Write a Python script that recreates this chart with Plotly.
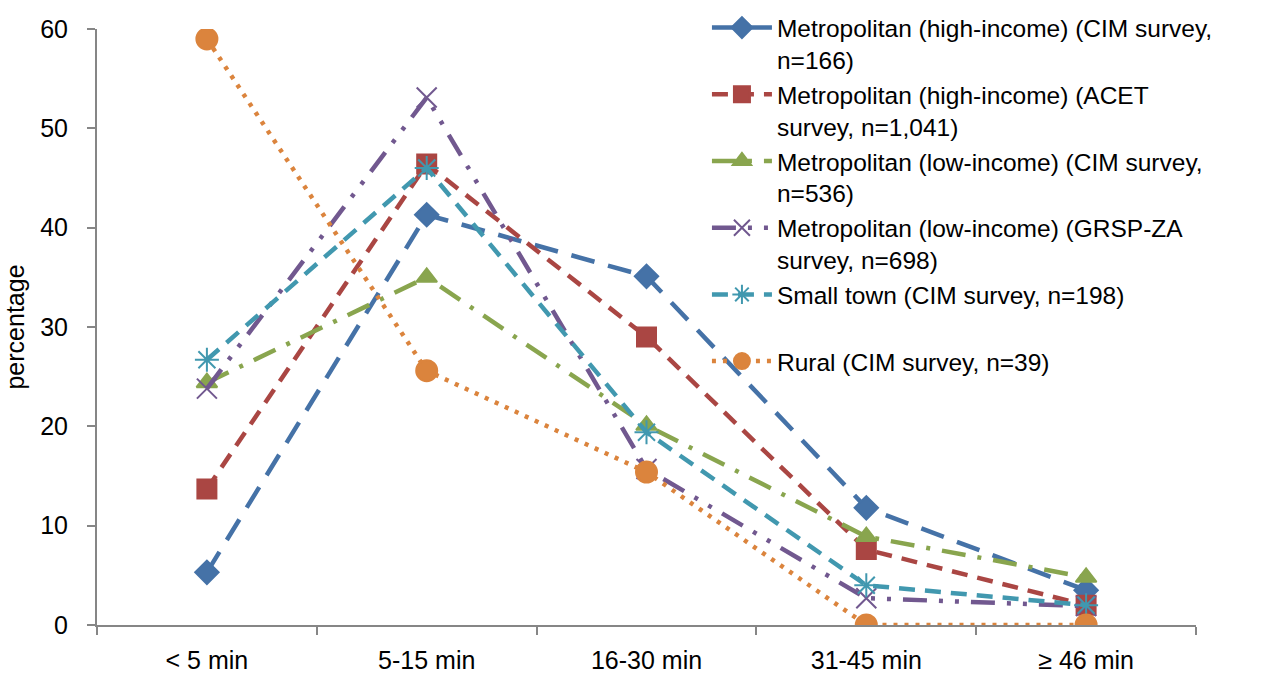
import plotly.graph_objects as go

categories = ["< 5 min", "5-15 min", "16-30 min", "31-45 min", "≥ 46 min"]

metro_high_cim = [5.3, 41.3, 35.1, 11.8, 3.5]
metro_high_acet = [13.7, 46.4, 29.0, 7.6, 2.0]
metro_low_cim = [24.4, 35.0, 20.1, 8.9, 4.8]
metro_low_grsp = [23.8, 53.1, 15.7, 2.7, 1.9]
small_town_cim = [26.7, 46.0, 19.4, 4.0, 2.0]
rural_cim = [59.0, 25.6, 15.4, 0.0, 0.0]

series_names = [
    "Metropolitan (high-income) (CIM survey,<br>n=166)",
    "Metropolitan (high-income) (ACET<br>survey, n=1,041)",
    "Metropolitan (low-income) (CIM survey,<br>n=536)",
    "Metropolitan (low-income) (GRSP-ZA<br>survey, n=698)",
    "Small town (CIM survey, n=198)<br>\u00a0",
    "Rural (CIM survey, n=39)",
]
series_values = [metro_high_cim, metro_high_acet, metro_low_cim,
                 metro_low_grsp, small_town_cim, rural_cim]
colors = ["#4572A7", "#AA4643", "#89A54E", "#71588F", "#4198AF", "#DB843D"]
dashes = ["24px,14px", "16px,10px", "24px,12px,4px,12px",
          "24px,12px,4px,12px,4px,12px", "16px,10px", "4px,7px"]
symbols = ["diamond", "square", "triangle-up", "x-thin-open", "asterisk-open", "circle"]
sizes = [18, 19, 18, 20, 20, 21]

fig = go.Figure()
for name, vals, c, d, s, sz in zip(series_names, series_values, colors, dashes, symbols, sizes):
    fig.add_trace(go.Scatter(
        x=categories, y=vals, name=name, mode="lines+markers",
        line=dict(color=c, width=4.5, dash=d),
        marker=dict(symbol=s, size=sz, color=c, line=dict(color=c, width=2)),
    ))

font_family = "Liberation Sans, Arial, sans-serif"
fig.update_layout(
    width=1268, height=679,
    margin=dict(l=97, r=72, t=29, b=54, autoexpand=False),
    paper_bgcolor="white", plot_bgcolor="white",
    font=dict(family=font_family, size=25, color="#000000"),
    showlegend=True,
    legend=dict(
        x=0.555, y=1.04, xanchor="left", yanchor="top",
        bgcolor="rgba(0,0,0,0)", valign="top",
        font=dict(family=font_family, size=24.5, color="#000000"),
        itemwidth=60, tracegroupgap=0, maxheight=600,
    ),
    xaxis=dict(
        type="category", range=[-0.5, 4.5], automargin=False,
        showline=True, linecolor="#868686", linewidth=2,
        ticks="outside", tickson="boundaries", ticklen=8, tickcolor="#868686", tickwidth=2,
        showgrid=False, zeroline=False, ticklabelstandoff=12,
        tickfont=dict(size=25),
    ),
    yaxis=dict(
        range=[0, 60], dtick=10, tick0=0, automargin=False,
        showline=True, linecolor="#868686", linewidth=2,
        ticks="outside", ticklen=8, tickcolor="#868686", tickwidth=2,
        showgrid=False, zeroline=False, ticklabelstandoff=14,
        title=dict(text="percentage", font=dict(size=25), standoff=8),
        tickfont=dict(size=25),
    ),
)

fig.write_html("out.html")
